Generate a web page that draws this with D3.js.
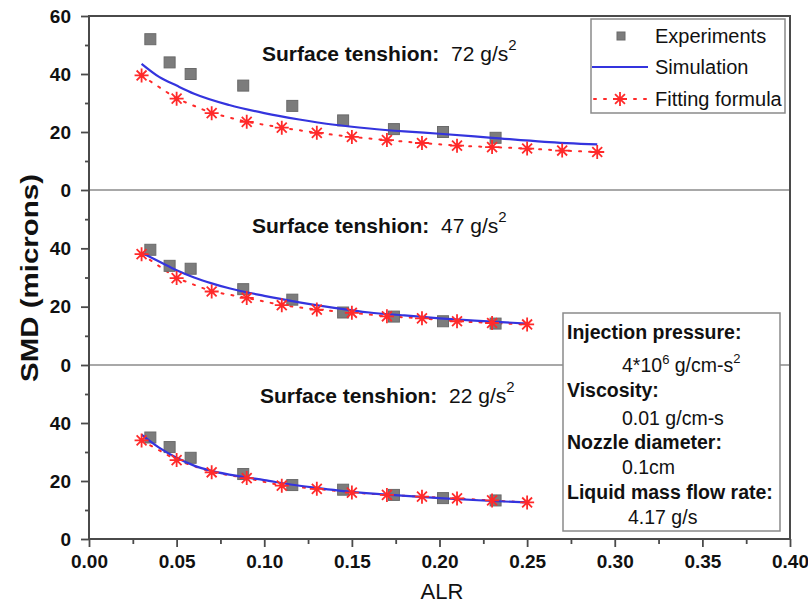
<!DOCTYPE html>
<html><head><meta charset="utf-8">
<script src="https://cdn.jsdelivr.net/npm/d3@7"></script>
<style>
body{margin:0;background:#fff}
svg{display:block}
text{font-family:"Liberation Sans",Arial,Helvetica,sans-serif;fill:#111}
</style>
</head><body>
<svg id="chart" width="808" height="606"></svg>
<script>
// ---------------- DATA ----------------
const xTickValues = [0, 0.05, 0.10, 0.15, 0.20, 0.25, 0.30, 0.35, 0.40];
const xMinorTicks = [0.025, 0.075, 0.125, 0.175, 0.225, 0.275, 0.325, 0.375];
const yTicksTop = [0, 20, 40, 60];
const yTicksLower = [0, 20, 40];
const yMinorTicks = [10, 30, 50];

const surfaceTensions = ["72", "47", "22"];

// Experiments (ALR positions shared by all panels)
const xExp = [0.035, 0.046, 0.058, 0.088, 0.116, 0.145, 0.174, 0.202, 0.232];
const expTop = [52, 44, 40, 36, 29, 24, 21, 20, 18];
const expMid = [39.5, 34, 33, 26, 22.4, 18, 16.6, 15, 14.2];
const expBot = [35, 31.7, 28, 22.4, 18.6, 17, 15.2, 14.1, 13.3];

// Fitting formula
const xFitTop = [0.03, 0.05, 0.07, 0.09, 0.11, 0.13, 0.15, 0.17, 0.19, 0.21, 0.23, 0.25, 0.27, 0.29];
const fitTop = [39.5, 31.5, 26.5, 23.5, 21.5, 19.7, 18.3, 17.2, 16.2, 15.3, 14.8, 14.3, 13.6, 13.1];
const xFitLower = [0.03, 0.05, 0.07, 0.09, 0.11, 0.13, 0.15, 0.17, 0.19, 0.21, 0.23, 0.25];
const fitMid = [38, 29.8, 25.2, 23, 20.5, 19, 17.9, 16.7, 16, 15, 14.4, 13.9];
const fitBot = [34, 27.2, 23, 21, 18.4, 17.3, 16, 15.2, 14.6, 14, 13.3, 12.6];

// Simulation
const simTopX = [0.03, 0.04, 0.05, 0.06, 0.08, 0.10, 0.12, 0.14, 0.16, 0.18, 0.20, 0.23, 0.26, 0.29];
const simTopY = [43.5, 39, 36, 33.2, 29.3, 26.5, 24.3, 22.5, 21.2, 20.2, 19.4, 18, 16.6, 15.7];
const simMidX = [0.03, 0.04, 0.05, 0.06, 0.07, 0.08, 0.10, 0.12, 0.14, 0.16, 0.18, 0.20, 0.22, 0.25];
const simMidY = [38.5, 35.5, 32.5, 30, 28, 26.3, 23.7, 21.5, 19.6, 18, 17, 16, 15.2, 14.2];
const simBotX = [0.03, 0.04, 0.05, 0.06, 0.07, 0.087, 0.10, 0.115, 0.13, 0.145, 0.17, 0.20, 0.23, 0.25];
const simBotY = [36, 31.5, 28, 25.3, 23.5, 21.5, 20.3, 18.8, 17.6, 16.5, 15.3, 14.1, 13.1, 12.6];

const legendLabels = ["Experiments", "Simulation", "Fitting formula"];

// ---------------- LAYOUT ----------------
const svg = d3.select("#chart");
const L = 89, R = 790;
const x = d3.scaleLinear().domain([0, 0.4]).range([L, R]);
const panelRanges = [[190, 16], [365, 190], [539, 365]];
const titlePos = [[262, 61], [252, 233], [260, 403]];

const panels = [
  {tension: surfaceTensions[0], exp: expTop, fx: xFitTop, fit: fitTop, sx: simTopX, sy: simTopY, ticks: yTicksTop},
  {tension: surfaceTensions[1], exp: expMid, fx: xFitLower, fit: fitMid, sx: simMidX, sy: simMidY, ticks: yTicksLower},
  {tension: surfaceTensions[2], exp: expBot, fx: xFitLower, fit: fitBot, sx: simBotX, sy: simBotY, ticks: yTicksLower}
];

const BLUE = "#3434de", RED = "#ff2a2a", SQ = "#7c7c7c", AX = "#4a4a4a";

function starPath(r) {
  const p = [];
  for (let k = 0; k < 4; k++) {
    const a = k * Math.PI / 4;
    const dx = r * Math.cos(a), dy = r * Math.sin(a);
    p.push(`M${-dx},${-dy}L${dx},${dy}`);
  }
  return p.join("");
}
const STAR = starPath(7);

// separators
[190, 365].forEach(yy => {
  svg.append("line").attr("x1", L).attr("x2", R).attr("y1", yy).attr("y2", yy)
    .attr("stroke", "#a8a8a8").attr("stroke-width", 2.2);
});

panels.forEach((p, i) => {
  const y = d3.scaleLinear().domain([0, 60]).range(panelRanges[i]);

  const ax = svg.append("g").attr("transform", `translate(${L},0)`)
    .call(d3.axisLeft(y).tickValues(p.ticks).tickSize(8).tickPadding(10).tickFormat(d3.format("d")));
  ax.select(".domain").remove();
  ax.selectAll("line").attr("stroke", AX).attr("stroke-width", 1.8);
  ax.selectAll("text").attr("font-size", 19).attr("font-weight", "bold").attr("fill", "#111");
  const axm = svg.append("g").attr("transform", `translate(${L},0)`)
    .call(d3.axisLeft(y).tickValues(yMinorTicks).tickSize(4).tickFormat(""));
  axm.select(".domain").remove();
  axm.selectAll("line").attr("stroke", AX).attr("stroke-width", 1.8);

  // fitting dotted line
  svg.append("path")
    .datum(p.fx.map((d, j) => [d, p.fit[j]]))
    .attr("d", d3.line().x(d => x(d[0])).y(d => y(d[1])))
    .attr("fill", "none").attr("stroke", RED).attr("stroke-width", 2)
    .attr("stroke-dasharray", "2,8").attr("stroke-linecap", "round");

  // experiments squares
  svg.append("g").selectAll("rect").data(xExp.map((d, j) => [d, p.exp[j]])).join("rect")
    .attr("x", d => x(d[0]) - 5.5).attr("y", d => y(d[1]) - 5.5)
    .attr("width", 11).attr("height", 11)
    .attr("fill", SQ).attr("stroke", "#6a6a6a").attr("stroke-width", 1);

  // simulation line
  svg.append("path")
    .datum(p.sx.map((d, j) => [d, p.sy[j]]))
    .attr("d", d3.line().curve(d3.curveMonotoneX).x(d => x(d[0])).y(d => y(d[1])))
    .attr("fill", "none").attr("stroke", BLUE).attr("stroke-width", 2.2);

  // stars
  svg.append("g").selectAll("path").data(p.fx.map((d, j) => [d, p.fit[j]])).join("path")
    .attr("transform", d => `translate(${x(d[0])},${y(d[1])})`)
    .attr("d", STAR).attr("stroke", RED).attr("stroke-width", 1.8).attr("fill", "none");

  // title
  const t = svg.append("text").attr("x", titlePos[i][0]).attr("y", titlePos[i][1]).attr("font-size", 21);
  t.append("tspan").attr("font-weight", "bold").text("Surface tenshion:");
  t.append("tspan").text("\u00a0\u00a0" + p.tension + " g/s");
  t.append("tspan").attr("font-size", 15).attr("dy", -11).text("2");
});

// x axis
const xa = svg.append("g").attr("transform", `translate(0,539)`)
  .call(d3.axisBottom(x).tickValues(xTickValues).tickSize(8).tickPadding(8).tickFormat(d3.format(".2f")));
xa.select(".domain").remove();
xa.selectAll("line").attr("stroke", AX).attr("stroke-width", 1.8);
xa.selectAll("text").attr("font-size", 19).attr("font-weight", "bold").attr("fill", "#111");
const xam = svg.append("g").attr("transform", `translate(0,539)`)
  .call(d3.axisBottom(x).tickValues(xMinorTicks).tickSize(5).tickFormat(""));
xam.select(".domain").remove();
xam.selectAll("line").attr("stroke", AX).attr("stroke-width", 1.8);

// frame
svg.append("path").attr("d", `M${L},539L${L},16L${R},16L${R},539Z`)
  .attr("fill", "none").attr("stroke", AX).attr("stroke-width", 2);

// axis titles
svg.append("text").attr("x", 442).attr("y", 599).attr("text-anchor", "middle")
  .attr("font-size", 22).text("ALR");
svg.append("text").attr("transform", "translate(38,278) rotate(-90)").attr("text-anchor", "middle")
  .attr("font-size", 23).attr("font-weight", "bold")
  .attr("textLength", 208).attr("lengthAdjust", "spacingAndGlyphs").text("SMD (microns)");

// legend
const lg = svg.append("g");
lg.append("rect").attr("x", 591).attr("y", 19).attr("width", 194).attr("height", 94)
  .attr("fill", "#fff").attr("stroke", "#8a8a8a").attr("stroke-width", 1.5);
const ly = [36, 67, 99];
lg.append("rect").attr("x", 617).attr("y", ly[0] - 4).attr("width", 8).attr("height", 8)
  .attr("fill", SQ).attr("stroke", "#6a6a6a");
lg.append("line").attr("x1", 592).attr("x2", 648).attr("y1", ly[1]).attr("y2", ly[1])
  .attr("stroke", BLUE).attr("stroke-width", 2.2);
lg.append("line").attr("x1", 594).attr("x2", 650).attr("y1", ly[2]).attr("y2", ly[2])
  .attr("stroke", RED).attr("stroke-width", 2).attr("stroke-dasharray", "2,8").attr("stroke-linecap", "round");
lg.append("path").attr("transform", `translate(620,${ly[2]})`).attr("d", STAR)
  .attr("stroke", RED).attr("stroke-width", 1.8).attr("fill", "none");
legendLabels.forEach((s, k) => {
  lg.append("text").attr("x", 655).attr("y", ly[k] + 7).attr("font-size", 20).text(s);
});

// annotation box
const ab = svg.append("g");
ab.append("rect").attr("x", 563).attr("y", 313).attr("width", 217).attr("height", 218)
  .attr("fill", "#fff").attr("stroke", "#8a8a8a").attr("stroke-width", 1.5);
function bold(yy, s) { ab.append("text").attr("x", 567).attr("y", yy).attr("font-size", 19.5).attr("font-weight", "bold").text(s); }
function val(xx, yy) { return ab.append("text").attr("x", xx).attr("y", yy).attr("font-size", 19.5); }
bold(339, "Injection pressure:");
const v1 = val(622, 372);
v1.append("tspan").text("4*10");
v1.append("tspan").attr("font-size", 13).attr("dy", -8).text("6");
v1.append("tspan").attr("dy", 8).text("\u00a0g/cm-s");
v1.append("tspan").attr("font-size", 13).attr("dy", -9).text("2");
bold(397, "Viscosity:");
val(622, 425).text("0.01 g/cm-s");
bold(449, "Nozzle diameter:");
val(622, 474).text("0.1cm");
bold(499, "Liquid mass flow rate:");
val(628, 524).text("4.17 g/s");
</script>
</body></html>
